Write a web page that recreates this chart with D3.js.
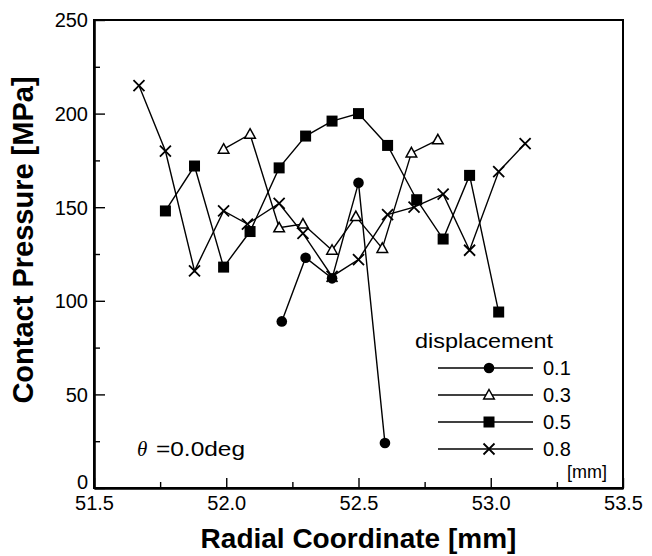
<!DOCTYPE html>
<html>
<head>
<meta charset="utf-8">
<script src="https://cdn.jsdelivr.net/npm/d3@7"></script>
<style>
  body { margin: 0; background: #fff; }
  svg text { font-family: "Liberation Sans", Arial, Helvetica, sans-serif; fill: #000; }
</style>
</head>
<body>
<svg id="chart" width="652" height="556"></svg>
<script>
// Axis ticks
const xTicks = [51.5, 52.0, 52.5, 53.0, 53.5];
const xMinorTicks = [51.75, 52.25, 52.75, 53.25];
const yTicks = [0, 50, 100, 150, 200, 250];
const yMinorTicks = [25, 75, 125, 175, 225];

// Displacement cases [mm]
const seriesNames = ["0.1", "0.3", "0.5", "0.8"];

// Radial coordinate [mm] and contact pressure [MPa] per displacement
const r01 = [52.21, 52.30, 52.40, 52.50, 52.60];
const p01 = [89, 123, 112, 163, 24];

const r03 = [51.99, 52.09, 52.20, 52.29, 52.40, 52.49, 52.59, 52.70, 52.80];
const p03 = [181, 189, 139, 141, 127, 145, 128, 179, 186];

const r05 = [51.77, 51.88, 51.99, 52.09, 52.20, 52.30, 52.40, 52.50, 52.61, 52.72, 52.82, 52.92, 53.03];
const p05 = [148, 172, 118, 137, 171, 188, 196, 200, 183, 154, 133, 167, 94];

const r08 = [51.67, 51.77, 51.88, 51.99, 52.08, 52.20, 52.29, 52.40, 52.50, 52.61, 52.71, 52.82, 52.92, 53.03, 53.13];
const p08 = [215, 180, 116, 148, 141, 152, 136, 113, 122, 146, 150, 157, 127, 169, 184];

const markers = ["circle", "triangle", "square", "cross"];

const series = [
  { name: seriesNames[0], r: r01, p: p01, marker: markers[0] },
  { name: seriesNames[1], r: r03, p: p03, marker: markers[1] },
  { name: seriesNames[2], r: r05, p: p05, marker: markers[2] },
  { name: seriesNames[3], r: r08, p: p08, marker: markers[3] }
];

const margin = { left: 94, top: 20, right: 29, bottom: 68 };
const W = 652, H = 556;
const w = W - margin.left - margin.right;
const h = H - margin.top - margin.bottom;

const svg = d3.select("#chart");
const g = svg.append("g").attr("transform", `translate(${margin.left},${margin.top})`);

const x = d3.scaleLinear().domain([51.5, 53.5]).range([0, w]);
const y = d3.scaleLinear().domain([0, 250]).range([h, 0]);

// Frame
g.append("rect")
  .attr("x", 0).attr("y", 0).attr("width", w).attr("height", h)
  .attr("fill", "none").attr("stroke", "#000").attr("stroke-width", 2);

// Y axis (ticks pointing inward)
const yAxis = g.append("g")
  .call(d3.axisLeft(y).tickValues(yTicks).tickSize(-11).tickSizeOuter(0).tickPadding(6).tickFormat(d3.format("d")));
yAxis.call(gg => gg.select(".domain").attr("stroke-width", 2.6));
yAxis.selectAll("text").attr("font-size", 20)
  .attr("dy", d => d === 0 ? "0.02em" : "0.34em");
yAxis.selectAll(".tick line").attr("stroke-width", 1.4);

g.append("g")
  .call(d3.axisLeft(y).tickValues(yMinorTicks).tickSize(-6).tickSizeOuter(0).tickFormat(""))
  .call(gg => gg.select(".domain").remove())
  .selectAll(".tick line").attr("stroke-width", 1.4);

// X axis
const xAxis = g.append("g").attr("transform", `translate(0,${h})`)
  .call(d3.axisBottom(x).tickValues(xTicks).tickSize(-10).tickSizeOuter(0).tickPadding(8).tickFormat(d3.format(".1f")));
xAxis.call(gg => gg.select(".domain").attr("stroke-width", 2.6));
xAxis.selectAll("text").attr("font-size", 20);
xAxis.selectAll(".tick line").attr("stroke-width", 1.4);

g.append("g").attr("transform", `translate(0,${h})`)
  .call(d3.axisBottom(x).tickValues(xMinorTicks).tickSize(-6).tickSizeOuter(0).tickFormat(""))
  .call(gg => gg.select(".domain").remove())
  .selectAll(".tick line").attr("stroke-width", 1.4);

// Marker drawing
function drawMarker(sel, type) {
  if (type === "circle") {
    sel.append("circle").attr("r", 5.3).attr("fill", "#000");
  } else if (type === "square") {
    sel.append("rect").attr("x", -5.5).attr("y", -5.5).attr("width", 11).attr("height", 11).attr("fill", "#000");
  } else if (type === "triangle") {
    sel.append("path").attr("d", "M0,-5.5 L5.3,4 L-5.3,4 Z")
      .attr("fill", "#fff").attr("stroke", "#000").attr("stroke-width", 1.5);
  } else if (type === "cross") {
    sel.append("path").attr("d", "M-5.5,-5.5 L5.5,5.5 M-5.5,5.5 L5.5,-5.5")
      .attr("fill", "none").attr("stroke", "#000").attr("stroke-width", 1.8);
  }
}

const line = d3.line().x(d => x(d[0])).y(d => y(d[1]));

series.forEach(s => {
  const pts = s.r.map((rv, i) => [rv, s.p[i]]);
  g.append("path").datum(pts).attr("d", line)
    .attr("fill", "none").attr("stroke", "#000").attr("stroke-width", 1.4);
});
series.forEach(s => {
  const pts = s.r.map((rv, i) => [rv, s.p[i]]);
  g.append("g").selectAll("g").data(pts).join("g")
    .attr("transform", d => `translate(${x(d[0])},${y(d[1])})`)
    .each(function () { drawMarker(d3.select(this), s.marker); });
});

// Legend
const lg = svg.append("g");
lg.append("text").attr("x", 415).attr("y", 348).attr("font-size", 21)
  .attr("textLength", 138).attr("lengthAdjust", "spacingAndGlyphs").text("displacement");
series.forEach((s, i) => {
  const ly = 368 + i * 27;
  lg.append("line").attr("x1", 438).attr("x2", 533).attr("y1", ly).attr("y2", ly)
    .attr("stroke", "#000").attr("stroke-width", 1.4);
  const mg = lg.append("g").attr("transform", `translate(489,${ly})`);
  drawMarker(mg, s.marker);
  lg.append("text").attr("x", 543).attr("y", ly + 7).attr("font-size", 20).text(s.name);
});
lg.append("text").attr("x", 567).attr("y", 478).attr("font-size", 18).text("[mm]");

// Angle annotation
const ann = svg.append("text").attr("x", 137).attr("y", 456).attr("font-size", 21);
ann.append("tspan").attr("font-family", "'Liberation Serif', 'Times New Roman', serif")
  .attr("font-style", "italic").text("θ");
ann.append("tspan").attr("x", 156).attr("textLength", 89).attr("lengthAdjust", "spacingAndGlyphs")
  .text("=0.0deg");

// Axis titles
svg.append("text").attr("x", margin.left + w / 2).attr("y", 548)
  .attr("text-anchor", "middle").attr("font-size", 28).attr("font-weight", "bold")
  .text("Radial Coordinate [mm]");
svg.append("text").attr("transform", "translate(33,240) rotate(-90)")
  .attr("text-anchor", "middle").attr("font-size", 29).attr("font-weight", "bold")
  .text("Contact Pressure [MPa]");
</script>
</body>
</html>
